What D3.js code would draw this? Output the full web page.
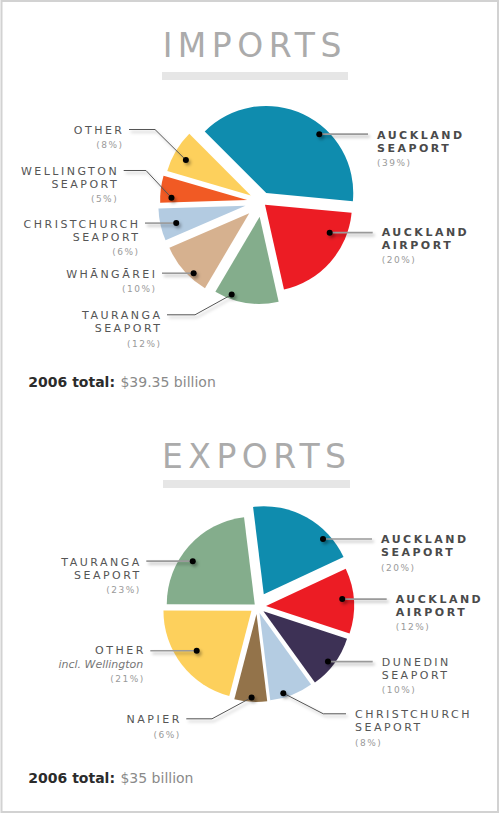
<!DOCTYPE html>
<html><head><meta charset="utf-8">
<script src="https://cdn.jsdelivr.net/npm/d3@7"></script>
<style>
html,body{margin:0;padding:0;background:#fff;}
svg{display:block;font-family:"DejaVu Sans",Verdana,sans-serif;}
</style>
</head><body>
<svg id="chart" width="500" height="814"></svg>
<script>
// ---------- DATA ----------
const titles = ["IMPORTS", "EXPORTS"];
const totalLabel = "2006 total:";

const importCategories = ["Auckland Seaport", "Auckland Airport", "Tauranga Seaport", "Whāngārei", "Christchurch Seaport", "Wellington Seaport", "Other"];
const importValues = [39, 20, 12, 10, 6, 5, 8];
const importNotes = ["", "", "", "", "", "", ""];
const importTotal = "$39.35 billion";

const exportCategories = ["Auckland Seaport", "Auckland Airport", "Dunedin Seaport", "Christchurch Seaport", "Napier", "Other", "Tauranga Seaport"];
const exportValues = [20, 12, 10, 8, 6, 21, 23];
const exportNotes = ["", "", "", "", "", "incl. Wellington", ""];
const exportTotal = "$35 billion";

// ---------- STYLE / LAYOUT ----------
const importColors = ["#0f8cae", "#ec1c24", "#84ad8c", "#d6b18f", "#b3cbe1", "#f15a24", "#fdd05c"];
const exportColors = ["#0f8cae", "#ec1c24", "#3d3155", "#b4cce2", "#93734a", "#fdd05c", "#84ad8c"];

const importLayout = {
  cx: 262, cy: 202, r: 87, start: -45,
  explode: [10, 4, 15, 17, 17, 15, 13],
  dotAt: [[0.62, 0.91], [0.25, 0.81], [0.75, 0.95], [0.34, 0.94], [0.43, 0.82], [0.2, 0.87], [0.43, 0.85]],
  labels: [
    {side: "right", x: 377, y: 138.5, bold: true},
    {side: "right", x: 381.7, y: 236, bold: true},
    {side: "left", x: 160, y: 319.3, elbow: 195},
    {side: "left", x: 155, y: 277.7},
    {side: "left", x: 138, y: 227.7},
    {side: "left", x: 116.7, y: 175, elbow: 146},
    {side: "left", x: 122, y: 134, elbow: 155}
  ],
  title: {x: 252, y: 56.5, barX: 162, barY: 72, barW: 186, barH: 8},
  total: {x: 28.3, y: 387}
};
const exportLayout = {
  cx: 257, cy: 606.5, r: 88, start: -7,
  explode: [14, 9, 8, 7, 7.5, 7, 3],
  dotAt: [[0.75, 0.92], [0.46, 0.87], [0.55, 0.93], [0.67, 0.95], [0.48, 0.95], [0.52, 0.77], [0.42, 0.86]],
  labels: [
    {side: "right", x: 381, y: 543.3, bold: true},
    {side: "right", x: 395.7, y: 602.7, bold: true},
    {side: "right", x: 381.7, y: 665.7},
    {side: "right", x: 355, y: 718.3, elbow: 323.3},
    {side: "left", x: 179.3, y: 723.3, elbow: 212},
    {side: "left", x: 143.3, y: 654.3},
    {side: "left", x: 139.3, y: 566}
  ],
  title: {x: 254, y: 468, barX: 163, barY: 480, barW: 187, barH: 8},
  total: {x: 28.3, y: 782.7}
};

const NAME_LS = 2.5, PCT_LS = 1.5, TITLE_LS = 5.5;

// ---------- DRAW ----------
const svg = d3.select("#chart");
const defs = svg.append("defs");
const f = defs.append("filter").attr("id", "sh").attr("x", "-50%").attr("y", "-50%").attr("width", "200%").attr("height", "200%");
f.append("feDropShadow").attr("dx", 2).attr("dy", 2.5).attr("stdDeviation", 1.6)
  .attr("flood-color", "#000").attr("flood-opacity", 0.3);

// frame
svg.append("rect").attr("x", 1.5).attr("y", 1).attr("width", 496.5).attr("height", 811)
  .attr("fill", "none").attr("stroke", "#d2d2d2").attr("stroke-width", 2);

const rad = d => d * Math.PI / 180;

function drawPie(title, cats, vals, notes, colors, L, totalText) {
  const g = svg.append("g");
  // title
  g.append("text").attr("x", L.title.x + TITLE_LS / 2).attr("y", L.title.y)
    .attr("text-anchor", "middle").attr("font-size", 33).attr("fill", "#ababab")
    .style("letter-spacing", TITLE_LS + "px").text(title);
  g.append("rect").attr("x", L.title.barX).attr("y", L.title.barY)
    .attr("width", L.title.barW).attr("height", L.title.barH).attr("fill", "#e6e6e6");

  const pie = d3.pie().sort(null).value(d => d)
    .startAngle(rad(L.start)).endAngle(rad(L.start) + 2 * Math.PI);
  const arcs = pie(vals);
  const arc = d3.arc().innerRadius(0).outerRadius(L.r);
  const pt = d3.arc();

  const info = arcs.map((a, i) => {
    const mid = (a.startAngle + a.endAngle) / 2;
    const [ox, oy] = pt.centroid({startAngle: mid, endAngle: mid, innerRadius: L.explode[i], outerRadius: L.explode[i]});
    const ang = a.startAngle + L.dotAt[i][0] * (a.endAngle - a.startAngle);
    const rr = L.dotAt[i][1] * L.r;
    const [dx, dy] = pt.centroid({startAngle: ang, endAngle: ang, innerRadius: rr, outerRadius: rr});
    return {a, i, ax: L.cx + ox, ay: L.cy + oy, dotX: L.cx + ox + dx, dotY: L.cy + oy + dy};
  });

  g.selectAll("path.slice").data(info).join("path").attr("class", "slice")
    .attr("transform", d => `translate(${d.ax},${d.ay})`)
    .attr("d", d => arc(d.a)).attr("fill", d => colors[d.i]);

  // leader lines
  const lineG = g.append("g").attr("filter", "url(#sh)");
  info.forEach(d => {
    const lab = L.labels[d.i];
    const gap = lab.side === "right" ? -9 : 7;
    const ly = lab.y - 4.5;
    let pts;
    if (lab.elbow !== undefined) {
      pts = [[lab.x + gap, ly], [lab.elbow, ly], [d.dotX, d.dotY]];
    } else {
      pts = [[lab.x + gap, d.dotY], [d.dotX, d.dotY]];
    }
    lineG.append("path").attr("d", d3.line()(pts)).attr("fill", "none")
      .attr("stroke", lab.elbow !== undefined ? "#555" : "#9a9a9a")
      .attr("stroke-width", lab.elbow !== undefined ? 1 : 1.6);
  });
  // dots
  g.append("g").attr("filter", "url(#sh)").selectAll("circle").data(info).join("circle")
    .attr("cx", d => d.dotX).attr("cy", d => d.dotY).attr("r", 3).attr("fill", "#000");

  // labels
  info.forEach(d => {
    const lab = L.labels[d.i];
    const anchor = lab.side === "right" ? "start" : "end";
    const words = cats[d.i].toUpperCase().split(" ");
    let y = lab.y;
    words.forEach((w, k) => {
      if (k > 0) y += 13;
      g.append("text").attr("x", anchor === "end" ? lab.x + NAME_LS : lab.x).attr("y", y)
        .attr("text-anchor", anchor).attr("font-size", 11)
        .attr("font-weight", lab.bold ? "bold" : "normal")
        .attr("fill", lab.bold ? "#4a4a4a" : "#555")
        .style("letter-spacing", NAME_LS + "px").text(w);
    });
    if (notes[d.i]) {
      y += 14;
      g.append("text").attr("x", lab.x).attr("y", y).attr("text-anchor", anchor)
        .attr("font-size", 11).attr("font-style", "italic").attr("fill", "#777").text(notes[d.i]);
      y += 13.4;
    } else {
      y += 14.4;
    }
    g.append("text").attr("x", anchor === "end" ? lab.x + PCT_LS : lab.x).attr("y", y)
      .attr("text-anchor", anchor).attr("font-size", 9).attr("fill", "#9a9a9a")
      .style("letter-spacing", PCT_LS + "px").text(`(${vals[d.i]}%)`);
  });

  // total
  const t = g.append("text").attr("x", L.total.x).attr("y", L.total.y).attr("font-size", 14);
  t.append("tspan").attr("font-weight", "bold").attr("fill", "#2b2b2b").text(totalLabel);
  t.append("tspan").attr("fill", "#8a8a8a").attr("dx", 1).text(" " + totalText);
}

drawPie(titles[0], importCategories, importValues, importNotes, importColors, importLayout, importTotal);
drawPie(titles[1], exportCategories, exportValues, exportNotes, exportColors, exportLayout, exportTotal);
</script>
</body></html>
